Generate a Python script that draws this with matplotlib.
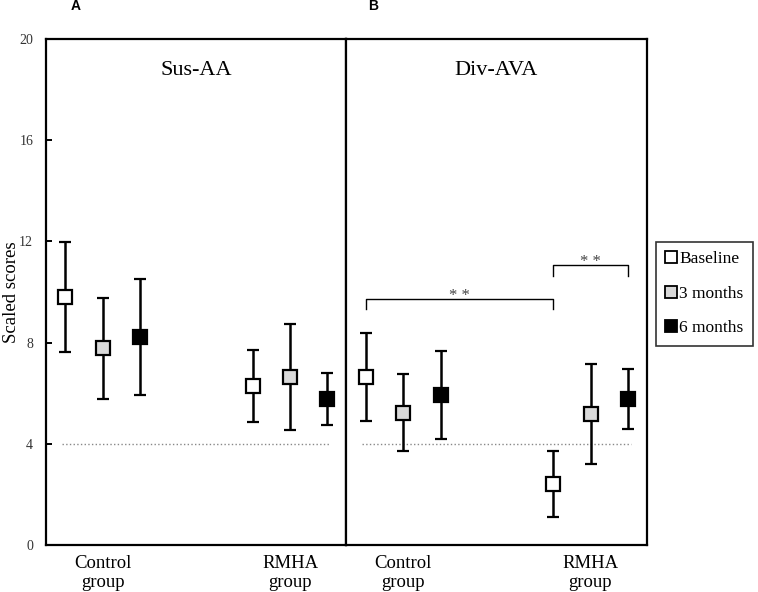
import matplotlib
matplotlib.use("Agg")
import matplotlib.pyplot as plt
from matplotlib.lines import Line2D
import numpy as np

plt.rcParams['font.family'] = ['Liberation Serif', 'DejaVu Serif']

groups = ["Control\ngroup", "RMHA\ngroup"]
timepoints = ["Baseline", "3 months", "6 months"]
colors = ["white", "#d9d9d9", "black"]

# Panel A: Sus-AA  (rows: group, cols: timepoint)
sus_mean = [[9.79, 7.77, 8.23], [6.30, 6.63, 5.77]]
sus_sd = [[2.17, 1.99, 2.30], [1.42, 2.10, 1.02]]
# Panel B: Div-AVA
div_mean = [[6.63, 5.23, 5.93], [2.41, 5.18, 5.78]]
div_sd = [[1.74, 1.53, 1.75], [1.30, 1.98, 1.18]]

cutoff = 4
yticks = [0, 4, 8, 12, 16, 20]

W, H = 758, 592
fig = plt.figure(figsize=(W / 100, H / 100), dpi=100)
left, right = 45.7 / W, 646.7 / W
bottom, top = 1 - 545 / H, 1 - 39 / H
wpan = (right - left) / 2
axA = fig.add_axes([left, bottom, wpan, top - bottom])
axB = fig.add_axes([left + wpan, bottom, wpan, top - bottom])

gpos = np.array([1.0, 2.0])
offs = np.array([-0.2, 0.0, 0.2])
xlim = (0.695, 2.30)


def draw(ax, means, sds, title):
    for gi in range(len(groups)):
        for ti in range(len(timepoints)):
            ax.errorbar(gpos[gi] + offs[ti], means[gi][ti], yerr=sds[gi][ti],
                        fmt='s', ms=10, mfc=colors[ti], mec='black', mew=1.6,
                        ecolor='black', elinewidth=1.8, capsize=4, capthick=1.8,
                        zorder=3)
    ax.plot([0.782, 2.215], [cutoff, cutoff], ls=':', color='#888888', lw=1.0, zorder=1)
    ax.set_xlim(*xlim)
    ax.set_ylim(0, 20)
    ax.set_xticks(gpos)
    ax.set_xticklabels(groups, fontsize=13.5, linespacing=1.15)
    ax.tick_params(axis='x', length=0, pad=7)
    ax.text(sum(xlim) / 2, 18.77, title, ha='center', va='center', fontsize=16)
    for s in ax.spines.values():
        s.set_linewidth(1.6)


draw(axA, sus_mean, sus_sd, "Sus-AA")
draw(axB, div_mean, div_sd, "Div-AVA")

axA.set_yticks(yticks)
axA.set_yticklabels([str(v) for v in yticks], fontsize=10, color='#333333')
axA.tick_params(axis='y', direction='in', length=4, width=1.4, pad=9)
axB.set_yticks([])
fig.text(12 / W, 1 - 292 / H, "Scaled scores", rotation=90, fontsize=13.5,
         ha='center', va='center')


# significance brackets in panel B
def bracket(ax, x1, x2, y, drop, label):
    ax.plot([x1, x1, x2, x2], [y - drop, y, y, y - drop], color='black', lw=1.0, zorder=2)
    ax.text((x1 + x2) / 2, y + 0.12, label, ha='center', va='center', fontsize=12,
            color='#444444')


bracket(axB, gpos[0] + offs[0], gpos[1] + offs[0], 9.72, 0.40, "* *")
bracket(axB, gpos[1] + offs[0], gpos[1] + offs[2], 11.07, 0.43, "* *")

# legend
handles = [Line2D([], [], marker='s', ls='none', ms=8.5, mfc=c, mec='black', mew=1.3)
           for c in colors]
leg = fig.legend(handles, timepoints, loc='upper left',
                 bbox_to_anchor=(656 / W, 1 - 241.7 / H), fontsize=12.5,
                 frameon=True, fancybox=False, edgecolor='black', handlelength=0.6,
                 handletextpad=0.2, labelspacing=1.05, borderpad=0.55,
                 borderaxespad=0)
leg.get_frame().set_linewidth(1.2)

fig.text(76 / W, 1 - 6 / H, "A", fontsize=10, fontweight='bold',
         family='Liberation Sans', ha='center', va='center')
fig.text(373 / W, 1 - 6 / H, "B", fontsize=10, fontweight='bold',
         family='Liberation Sans', ha='center', va='center')

fig.savefig("out.png", dpi=100)
